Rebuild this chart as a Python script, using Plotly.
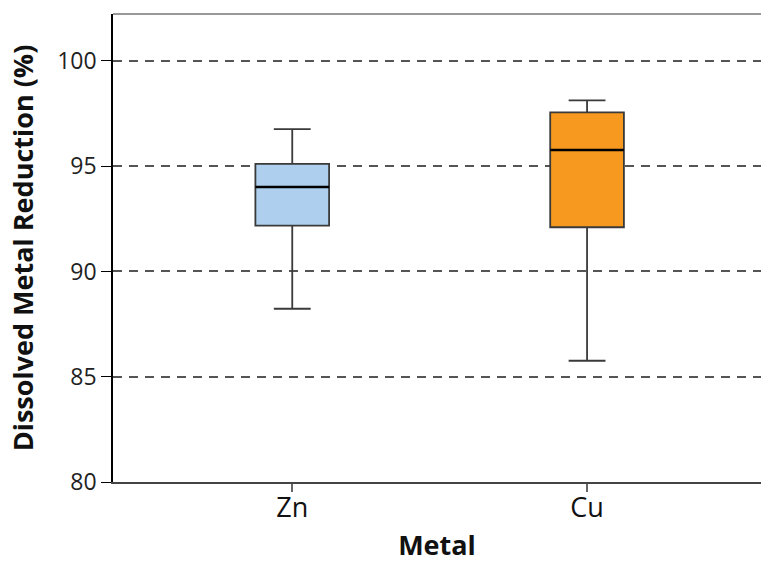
import plotly.graph_objects as go

metals = ["Zn", "Cu"]
lower_whisker = [88.23, 85.76]
q1 = [92.18, 92.10]
median = [94.01, 95.77]
q3 = [95.11, 97.56]
upper_whisker = [96.76, 98.13]
fill_colors = ["#aed0ee", "#f7991f"]

y_ticks = [80, 85, 90, 95, 100]
box_width = 0.25

fig = go.Figure()
for i, m in enumerate(metals):
    fig.add_trace(go.Box(
        x=[m],
        q1=[q1[i]], median=[median[i]], q3=[q3[i]],
        lowerfence=[lower_whisker[i]], upperfence=[upper_whisker[i]],
        fillcolor=fill_colors[i],
        line=dict(color="#3a3a3a", width=1.8),
        width=box_width,
        whiskerwidth=0.5,
        boxpoints=False,
        showlegend=False,
        hoverinfo="skip",
    ))

shapes = [dict(type="line", xref="paper", yref="paper", x0=0, x1=1, y0=1, y1=1,
               line=dict(color="#999999", width=2))]
for i, m in enumerate(metals):
    shapes.append(dict(type="line", xref="x", yref="y",
                       x0=i - box_width / 2, x1=i + box_width / 2,
                       y0=median[i], y1=median[i],
                       line=dict(color="black", width=2.5)))

fig.update_layout(
    width=761, height=563,
    margin=dict(l=113, r=0, t=14, b=81),
    paper_bgcolor="white", plot_bgcolor="white",
    font=dict(family="Open Sans", color="black"),
    xaxis=dict(
        type="category",
        range=[-0.608, 1.59],
        showline=True, linecolor="#444444", linewidth=1.5,
        ticks="outside", ticklen=8, tickcolor="#666666", tickwidth=1.5,
        tickfont=dict(size=27, color="#111111"),
        ticklabelstandoff=-7,
        showgrid=False,
        title=dict(text="<b>Metal</b>", font=dict(size=27, color="#111111"), standoff=16),
    ),
    yaxis=dict(
        range=[80, 102.23],
        tickvals=y_ticks,
        showline=True, linecolor="black", linewidth=1.5,
        ticks="outside", ticklen=10, tickcolor="black", tickwidth=1,
        tickfont=dict(size=23, color="#222222"),
        showgrid=True, gridcolor="#555555", gridwidth=1.5, griddash="9px,7px",
        zeroline=False,
        title=dict(text="<b>Dissolved Metal Reduction (%)</b>", font=dict(size=27, color="#111111"), standoff=16),
    ),
    shapes=shapes,
)

fig.write_html("out.html")
